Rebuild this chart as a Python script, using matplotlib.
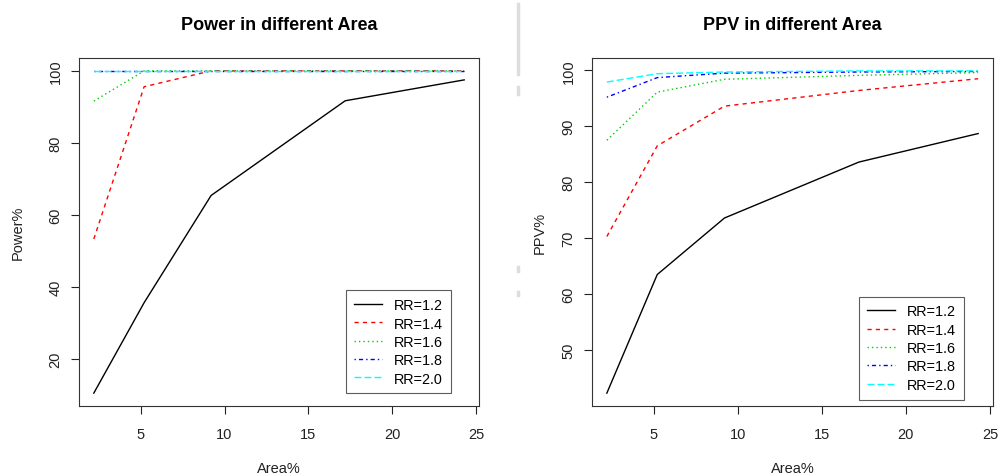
import numpy as np
import matplotlib
matplotlib.use('Agg')
import matplotlib.pyplot as plt
from matplotlib.lines import Line2D

plt.rcParams['font.family'] = ['Liberation Sans', 'DejaVu Sans']

# x values (Area%)
area = [2.2, 5.2, 9.2, 17.2, 24.3]
labels = ['RR=1.2', 'RR=1.4', 'RR=1.6', 'RR=1.8', 'RR=2.0']

# Power% per RR
power_12 = [10.5, 35.6, 65.4, 91.7, 97.5]
power_14 = [53.3, 95.6, 100.0, 100.0, 100.0]
power_16 = [91.6, 100.0, 100.0, 100.0, 100.0]
power_18 = [100.0, 100.0, 100.0, 100.0, 100.0]
power_20 = [100.0, 100.0, 100.0, 100.0, 100.0]

# PPV% per RR
ppv_12 = [42.3, 63.5, 73.6, 83.6, 88.7]
ppv_14 = [70.3, 86.5, 93.6, 96.4, 98.5]
ppv_16 = [87.5, 96.1, 98.4, 99.1, 99.6]
ppv_18 = [95.2, 98.7, 99.5, 99.7, 99.8]
ppv_20 = [97.9, 99.4, 99.7, 99.9, 99.9]

cols = ['black', '#FF0000', '#00CD00', '#0000FF', '#00FFFF']
dashes = [None, (3, 3), (1, 2.2), (1, 2.2, 3, 2.2), (5, 2.2)]
LW = 1.0


def r_lim(v):
    lo, hi = min(v), max(v)
    d = (hi - lo) * 0.04
    return lo - d, hi + d


def panel(ax, series, title, ylab, yticks, leg_anchor, ylabpad):
    allv = [y for s in series for y in s]
    for s, c, d, lab in zip(series, cols, dashes, labels):
        ln, = ax.plot(area, s, color=c, lw=LW, label=lab)
        if d is not None:
            ln.set_dashes(d)
    ax.set_xlim(*r_lim(area))
    ax.set_ylim(*r_lim(allv))
    ax.set_xticks([5, 10, 15, 20, 25])
    ax.set_yticks(yticks)
    ax.tick_params(direction='out', length=5.8, width=0.8, labelsize=10.5, colors='#222222')
    ax.tick_params(axis='x', pad=9)
    ax.tick_params(axis='y', pad=6)
    for lb in ax.get_yticklabels():
        lb.set_rotation(90)
        lb.set_va('center')
    for sp in ax.spines.values():
        sp.set_linewidth(0.8)
        sp.set_color('#333333')
    ax.set_title(title, fontsize=13, fontweight='bold', pad=21)
    ax.set_xlabel('Area%', fontsize=10.5, labelpad=15, color='#222222')
    ax.set_ylabel(ylab, fontsize=10.5, labelpad=ylabpad, color='#222222')
    handles = []
    for c, d, lab in zip(cols, dashes, labels):
        h = Line2D([], [], color=c, lw=LW, label=lab)
        if d is not None:
            h.set_dashes(d)
        handles.append(h)
    leg = ax.legend(handles=handles, loc='lower right', bbox_to_anchor=leg_anchor,
                    fontsize=10.4, frameon=True, fancybox=False, handlelength=1.95,
                    handletextpad=0.85, labelspacing=0.3, borderpad=0.55,
                    borderaxespad=0)
    leg.get_frame().set_edgecolor('#333333')
    leg.get_frame().set_linewidth(0.8)


fig = plt.figure(figsize=(10, 4.77), dpi=100)
ax1 = fig.add_axes([0.079, 1 - 407 / 477, 0.400, 348 / 477])
ax2 = fig.add_axes([0.592, 1 - 407 / 477, 0.401, 348 / 477])

panel(ax1, [power_12, power_14, power_16, power_18, power_20],
      'Power in different Area', 'Power%', [20, 40, 60, 80, 100], (0.93, 0.036), 17)
panel(ax2, [ppv_12, ppv_14, ppv_16, ppv_18, ppv_20],
      'PPV in different Area', 'PPV%', [50, 60, 70, 80, 90, 100], (0.928, 0.018), 10.5)

# faint separator from the screenshot
fig.add_artist(Line2D([0.518, 0.518], [1 - 5 / 477, 1 - 75 / 477], color='#dddddd', lw=2.5))
fig.add_artist(Line2D([0.518, 0.518], [1 - 88 / 477, 1 - 95 / 477], color='#dddddd', lw=2.5))
fig.add_artist(Line2D([0.518, 0.518], [1 - 268 / 477, 1 - 272 / 477], color='#dddddd', lw=2.5))
fig.add_artist(Line2D([0.518, 0.518], [1 - 293 / 477, 1 - 296 / 477], color='#dddddd', lw=2.5))

fig.savefig('out.png', dpi=100)
